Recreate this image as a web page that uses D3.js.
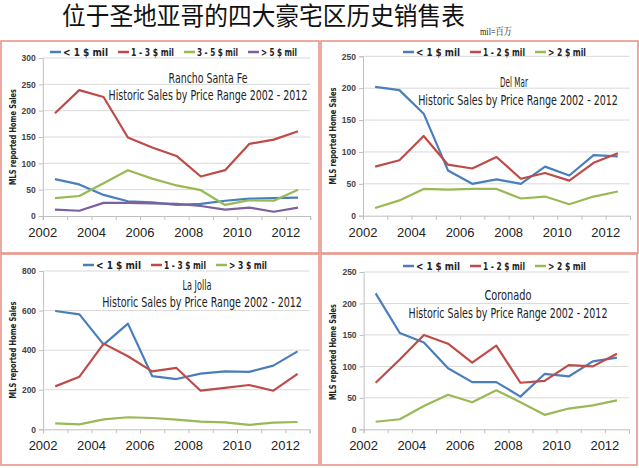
<!DOCTYPE html>
<html><head><meta charset="utf-8">
<script src="https://cdn.jsdelivr.net/npm/d3@7"></script>
<style>body{margin:0;background:#fff} svg{display:block}</style>
</head><body>
<svg id="c" width="639" height="468"></svg>
<script>
// ---------------- DATA ----------------
const years = [2002,2003,2004,2005,2006,2007,2008,2009,2010,2011,2012];
const xTickLabels = [2002,2004,2006,2008,2010,2012];
const chartTitle = "位于圣地亚哥的四大豪宅区历史销售表";
const unitNote = "mil=百万";
const subTitle = "Historic Sales by Price Range 2002 - 2012";
const yAxisTitle = "MLS reported Home Sales";
const areaNames = ["Rancho Santa Fe","Del Mar","La Jolla","Coronado"];

const ranchoLabels = ["<  1 $ mil","1 - 3 $ mil","3 - 5 $ mil","> 5 $ mil"];
const ranchoUnder1 = [70,60,40,28,26,21,23,29,33,34,35];
const rancho1to3   = [195,239,226,149,130,114,75,87,137,145,161];
const rancho3to5   = [34,38,62,87,71,58,49,21,30,29,50];
const ranchoOver5  = [12,10,25,25,24,23,19,12,16,8,16];
const ranchoTicks  = [0,50,100,150,200,250,300];

const delmarLabels = ["<  1 $ mil","1 - 2 $ mil","> 2 $ mil"];
const delmarUnder1 = [202,197,160,71,50,57,50,77,63,95,93];
const delmar1to2   = [77,87,125,80,74,92,58,67,55,83,98];
const delmarOver2  = [12,24,42,41,42,42,27,30,18,30,38];
const delmarTicks  = [0,50,100,150,200,250];

const lajollaLabels = ["<  1 $ mil","1 - 3 $ mil","> 3 $ mil"];
const lajollaUnder1 = [598,581,428,534,269,254,281,293,290,322,394];
const lajolla1to3   = [217,266,433,369,293,310,195,209,224,195,280];
const lajollaOver3  = [30,25,50,61,57,49,39,35,22,34,37];
const lajollaTicks  = [0,200,400,600,800];

const coronadoLabels = ["<  1 $ mil","1 - 2 $ mil","> 2 $ mil"];
const coronadoUnder1 = [216,153,138,97,75,75,52,88,84,108,114];
const coronado1to2   = [74,111,150,136,106,133,74,77,102,100,120];
const coronadoOver2  = [12,16,37,55,43,62,43,23,33,38,46];
const coronadoTicks  = [0,50,100,150,200,250];

// ---------------- LAYOUT / STYLE ----------------
const colors = ["#4a7ebb","#be4b48","#98b954","#7d60a0"];
const condFont = "'DejaVu Sans Condensed','DejaVu Sans',sans-serif";

const panels = [
  {name: areaNames[0], labels: ranchoLabels, series: [ranchoUnder1, rancho1to3, rancho3to5, ranchoOver5], ticks: ranchoTicks,
   box:[1,41,318,212], xr:[42.8,310.2], yr:[216,58], lx:50, ly:52, lw:[45,43,41,36],
   t1:{x:208,y:83,w:79}, t2:{x:208,y:100,w:199}, yt:{x:13,y:137,w:96}},
  {name: areaNames[1], labels: delmarLabels, series: [delmarUnder1, delmar1to2, delmarOver2], ticks: delmarTicks,
   box:[321,41,317,212], xr:[363,630], yr:[215.7,56.3], lx:403, ly:52, lw:[44,42,38],
   t1:{x:514,y:87,w:28}, t2:{x:518,y:105,w:200}, yt:{x:333,y:136,w:97}},
  {name: areaNames[2], labels: lajollaLabels, series: [lajollaUnder1, lajolla1to3, lajollaOver3], ticks: lajollaTicks,
   box:[1,254,318,211], xr:[43.1,309.7], yr:[429.3,271], lx:83, ly:265, lw:[45,42,38],
   t1:{x:197,y:290,w:29}, t2:{x:202,y:307,w:200}, yt:{x:13,y:350,w:97}},
  {name: areaNames[3], labels: coronadoLabels, series: [coronadoUnder1, coronado1to2, coronadoOver2], ticks: coronadoTicks,
   box:[321,254,316,211], xr:[363.6,629], yr:[429.3,272], lx:403, ly:266, lw:[44,42,38],
   t1:{x:508,y:300,w:47}, t2:{x:508,y:318,w:199}, yt:{x:333,y:352,w:96}}
];

const svg = d3.select("#c");

// place a text horizontally squeezed to a target width; anchor: 0 = start, 0.5 = middle
function fitText(parent, str, x, y, w, attrs, rotate) {
  const t = parent.append("text").attr("x", 0).attr("y", 0);
  Object.entries(attrs).forEach(([k, v]) => t.attr(k, v));
  t.text(str);
  const n = t.node().getComputedTextLength();
  const s = w / n;
  t.attr("transform", `translate(${x},${y})` + (rotate ? ` rotate(${rotate})` : "") + ` scale(${s},1)`);
  return t;
}

// Main title
fitText(svg, chartTitle, 62, 25, 403, {
  "font-family": "'Noto Sans CJK SC',sans-serif", "font-size": 25, "fill": "#111"});
fitText(svg, unitNote, 480, 35, 32, {
  "font-family": "'Liberation Serif','Noto Serif CJK SC','Noto Sans CJK SC',serif", "font-size": 10, "fill": "#222"});

panels.forEach(p => {
  const g = svg.append("g");
  // border
  g.append("rect").attr("x", p.box[0]).attr("y", p.box[1]).attr("width", p.box[2]).attr("height", p.box[3])
    .attr("fill", "#fff").attr("stroke", "#e8968a").attr("stroke-width", 1.6);

  const x = d3.scaleLinear().domain([years[0], years[years.length-1] + 1]).range(p.xr);
  const y = d3.scaleLinear().domain([0, p.ticks[p.ticks.length-1]]).range(p.yr);

  // gridlines
  g.selectAll(".grid").data(p.ticks.slice(1)).enter().append("line")
    .attr("x1", p.xr[0]).attr("x2", p.xr[1]).attr("y1", d => y(d)).attr("y2", d => y(d))
    .attr("stroke", "#d9d9d9").attr("stroke-width", 1);

  // y axis
  const yAxis = d3.axisLeft(y).tickValues(p.ticks).tickSize(4).tickPadding(3);
  const ya = g.append("g").attr("transform", `translate(${p.xr[0]},0)`).call(yAxis);
  ya.select(".domain").attr("stroke", "#bfbfbf");
  ya.selectAll(".tick line").attr("stroke", "#bfbfbf");
  ya.selectAll(".tick text").attr("font-family", "'Liberation Sans',sans-serif").attr("font-size", 8.5)
    .attr("font-weight", "bold").attr("fill", "#444");

  // x axis
  const xAxis = d3.axisBottom(x).tickValues(d3.range(years[0], years[years.length-1] + 2)).tickSize(4).tickFormat("");
  const xa = g.append("g").attr("transform", `translate(0,${p.yr[0]})`).call(xAxis);
  xa.select(".domain").attr("stroke", "#bfbfbf");
  xa.selectAll(".tick line").attr("stroke", "#bfbfbf");
  g.selectAll(".xl").data(xTickLabels).enter().append("text")
    .attr("x", d => x(d)).attr("y", p.yr[0] + 21).attr("text-anchor", "middle")
    .attr("font-family", "'Liberation Sans',sans-serif").attr("font-size", 13)
    .attr("fill", "#222").text(d => d);

  // y title
  fitText(g, yAxisTitle, p.yt.x, p.yt.y, p.yt.w, {
    "text-anchor": "middle", "dy": "0.35em", "font-family": condFont, "font-size": 9.5,
    "font-weight": "bold", "fill": "#222"}, -90);

  // titles inside
  [[p.t1, p.name], [p.t2, subTitle]].forEach(([t, s]) => {
    fitText(g, s, t.x, t.y, t.w, {
      "text-anchor": "middle", "font-family": condFont, "font-size": 13.5, "fill": "#222"});
  });

  // lines
  const line = d3.line().x((d, i) => x(years[i] + 0.5)).y(d => y(d));
  p.series.forEach((s, i) => {
    g.append("path").datum(s).attr("d", line).attr("fill", "none")
      .attr("stroke", colors[i]).attr("stroke-width", 2.2).attr("stroke-linejoin", "round");
  });

  // legend
  let lx = p.lx;
  p.labels.forEach((lab, i) => {
    g.append("line").attr("x1", lx).attr("x2", lx + 11).attr("y1", p.ly).attr("y2", p.ly)
      .attr("stroke", colors[i]).attr("stroke-width", 2.5);
    fitText(g, lab, lx + 13, p.ly + 4, p.lw[i], {
      "font-family": condFont, "font-size": 10.5, "font-weight": "bold", "fill": "#222"});
    lx += 13 + p.lw[i] + 10;
  });
});
</script>
</body></html>
